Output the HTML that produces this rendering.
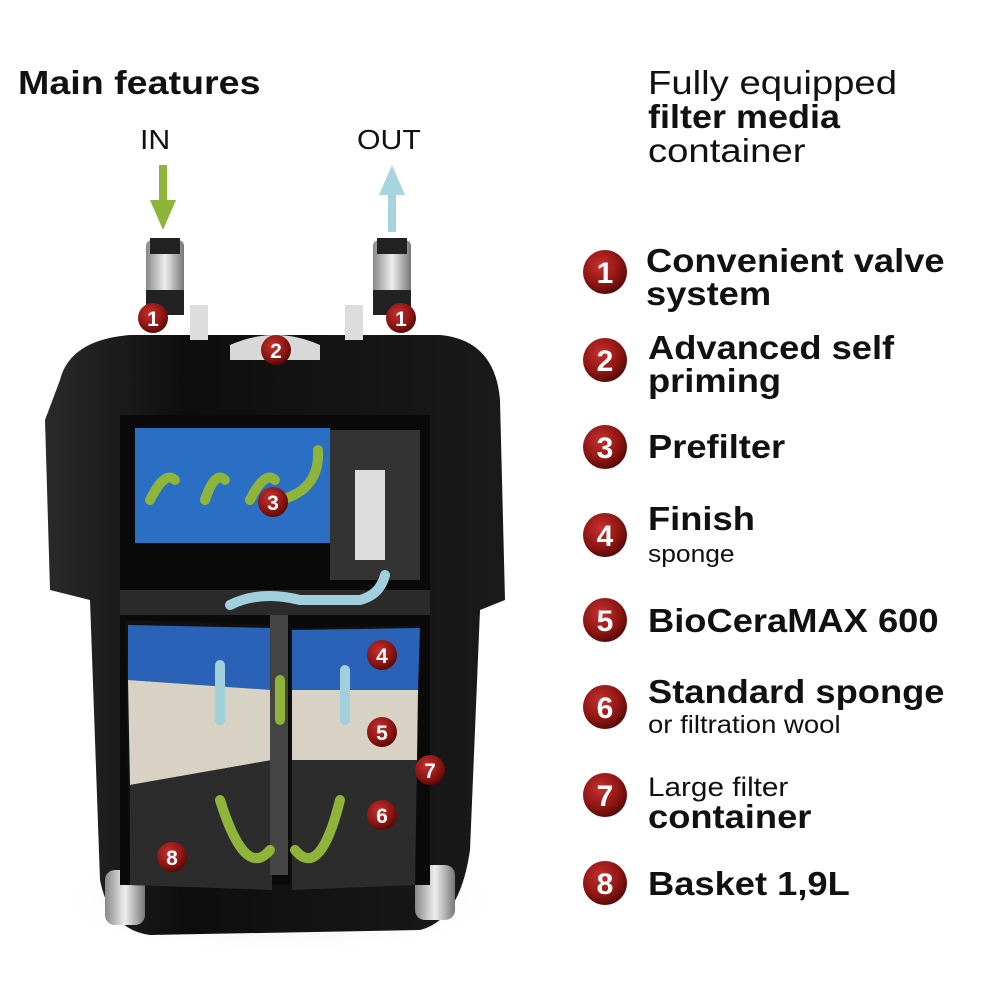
<!DOCTYPE html>
<html><head><style>
body{margin:0;background:#fff;}
.wrap{position:relative;width:1000px;height:1000px;overflow:hidden;font-family:"Liberation Sans","DejaVu Sans",sans-serif;color:#111;}
.t{position:absolute;white-space:nowrap;transform-origin:0 0;}
.b{font-weight:bold;}
</style></head><body><div class="wrap">
<svg width="1000" height="1000" style="position:absolute;left:0;top:0">
<defs>
<radialGradient id="rb" cx="40%" cy="35%" r="65%"><stop offset="0" stop-color="#c8302e"/><stop offset="0.7" stop-color="#8a1512"/><stop offset="1" stop-color="#5a0a08"/></radialGradient>
<linearGradient id="bd" x1="0" x2="1"><stop offset="0" stop-color="#2a2a2a"/><stop offset="0.3" stop-color="#0e0e0e"/><stop offset="1" stop-color="#1a1a1a"/></linearGradient>
<linearGradient id="sil" x1="0" x2="1"><stop offset="0" stop-color="#888"/><stop offset="0.5" stop-color="#eee"/><stop offset="1" stop-color="#777"/></linearGradient>
<radialGradient id="sh" cx="50%" cy="50%" r="50%"><stop offset="0" stop-color="#ccc"/><stop offset="1" stop-color="#fff" stop-opacity="0"/></radialGradient>
</defs>
<ellipse cx="280" cy="900" rx="230" ry="55" fill="url(#sh)"/>
<rect x="159" y="165" width="8" height="40" fill="#8fb43a"/><polygon points="150,200 176,200 163,230" fill="#8fb43a"/>
<rect x="388" y="190" width="8" height="42" fill="#a8d4e0"/><polygon points="379,195 405,195 392,165" fill="#a8d4e0"/>
<path d="M60,380 Q70,340 130,335 L440,335 Q495,340 500,400 L505,600 L480,610 L470,850 Q460,920 420,930 L150,935 Q110,930 100,880 L90,600 L50,590 L45,420 Z" fill="url(#bd)"/>
<rect x="105" y="870" width="40" height="55" rx="10" fill="url(#sil)"/>
<rect x="415" y="865" width="40" height="55" rx="10" fill="url(#sil)"/>
<path d="M230,345 Q275,325 320,345 L320,360 L230,360Z" fill="#d8d8d8"/>
<rect x="190" y="305" width="18" height="35" fill="#ddd"/><rect x="345" y="305" width="18" height="35" fill="#ddd"/>
<rect x="146" y="240" width="38" height="60" rx="6" fill="url(#sil)"/><rect x="150" y="238" width="30" height="16" fill="#222"/><rect x="146" y="290" width="38" height="25" fill="#222"/>
<rect x="373" y="240" width="38" height="60" rx="6" fill="url(#sil)"/><rect x="377" y="238" width="30" height="16" fill="#222"/><rect x="373" y="290" width="38" height="25" fill="#222"/>
<rect x="120" y="415" width="310" height="470" fill="#0a0a0a"/>
<rect x="135" y="428" width="195" height="115" fill="#2a6fc4"/>
<rect x="330" y="430" width="90" height="150" fill="#333"/>
<rect x="355" y="470" width="30" height="90" fill="#ddd"/>
<rect x="120" y="590" width="310" height="25" fill="#2b2b2b"/>
<polygon points="125,620 272,625 272,890 130,885" fill="#111"/>
<polygon points="128,625 272,628 272,690 128,680" fill="#2a62b8"/>
<polygon points="128,680 272,690 272,760 130,785" fill="#d8d2c4"/>
<polygon points="130,785 272,760 272,890 130,885" fill="#2c2c2c"/>
<polygon points="290,628 420,625 415,885 290,890" fill="#111"/>
<polygon points="292,630 420,628 418,690 292,690" fill="#2a62b8"/>
<polygon points="292,690 418,690 417,760 292,760" fill="#d8d2c4"/>
<polygon points="292,760 417,760 415,885 292,890" fill="#2c2c2c"/>
<rect x="270" y="615" width="18" height="260" fill="#444"/>
<g stroke-width="10" fill="none" stroke-linecap="round">
<path d="M150,500 Q165,470 175,480" stroke="#8fb43a"/><path d="M205,500 Q215,470 225,480" stroke="#8fb43a"/><path d="M250,500 Q265,470 275,480" stroke="#8fb43a"/>
<path d="M280,500 Q320,490 318,450" stroke="#8fb43a"/>
<path d="M230,605 Q260,590 300,600 L360,600 Q380,595 385,575" stroke="#9fd0dc"/>
<path d="M220,720 L220,665" stroke="#9fd0dc"/><path d="M345,720 L345,670" stroke="#9fd0dc"/>
<path d="M280,680 L280,720" stroke="#8fb43a"/>
<path d="M270,850 Q245,880 220,800" stroke="#8fb43a"/><path d="M295,850 Q320,880 340,800" stroke="#8fb43a"/>
</g>
<g font-family="Liberation Sans,sans-serif" font-weight="bold" fill="#fff" text-anchor="middle">
<circle cx="153" cy="318" r="15" fill="url(#rb)"/><text x="153" y="326" font-size="21">1</text>
<circle cx="401" cy="318" r="15" fill="url(#rb)"/><text x="401" y="326" font-size="21">1</text>
<circle cx="276" cy="350" r="15" fill="url(#rb)"/><text x="276" y="358" font-size="21">2</text>
<circle cx="273" cy="502" r="15" fill="url(#rb)"/><text x="273" y="510" font-size="21">3</text>
<circle cx="382" cy="655" r="15" fill="url(#rb)"/><text x="382" y="663" font-size="21">4</text>
<circle cx="382" cy="732" r="15" fill="url(#rb)"/><text x="382" y="740" font-size="21">5</text>
<circle cx="382" cy="815" r="15" fill="url(#rb)"/><text x="382" y="823" font-size="21">6</text>
<circle cx="430" cy="770" r="15" fill="url(#rb)"/><text x="430" y="778" font-size="21">7</text>
<circle cx="172" cy="857" r="15" fill="url(#rb)"/><text x="172" y="865" font-size="21">8</text>
</g>
<g font-family="Liberation Sans,sans-serif" font-weight="bold" fill="#fff" text-anchor="middle">
<circle cx="605" cy="272" r="22" fill="url(#rb)"/><text x="605" y="283" font-size="30">1</text>
<circle cx="605" cy="360" r="22" fill="url(#rb)"/><text x="605" y="371" font-size="30">2</text>
<circle cx="605" cy="447" r="22" fill="url(#rb)"/><text x="605" y="458" font-size="30">3</text>
<circle cx="605" cy="535" r="22" fill="url(#rb)"/><text x="605" y="546" font-size="30">4</text>
<circle cx="605" cy="620" r="22" fill="url(#rb)"/><text x="605" y="631" font-size="30">5</text>
<circle cx="605" cy="707" r="22" fill="url(#rb)"/><text x="605" y="718" font-size="30">6</text>
<circle cx="605" cy="795" r="22" fill="url(#rb)"/><text x="605" y="806" font-size="30">7</text>
<circle cx="605" cy="883" r="22" fill="url(#rb)"/><text x="605" y="894" font-size="30">8</text>
</g>
</svg>
<div class="t b" style="left:18px;top:64px;font-size:33px;transform:scaleX(1.14)">Main features</div>
<div class="t" style="left:140px;top:124px;font-size:28px;transform:scaleX(1.08)">IN</div>
<div class="t" style="left:357px;top:124px;font-size:28px;transform:scaleX(1.08)">OUT</div>
<div class="t" style="left:648px;top:66px;font-size:33px;line-height:34px;transform:scaleX(1.16)">Fully equipped<br><b style="display:inline-block;transform:scaleX(0.94);transform-origin:0 0">filter media</b><br>container</div>
<div class="t b" style="left:646px;top:244px;font-size:33px;line-height:33px;transform:scaleX(1.1)">Convenient valve<br>system</div>
<div class="t b" style="left:648px;top:331px;font-size:33px;line-height:33px;transform:scaleX(1.1)">Advanced self<br>priming</div>
<div class="t b" style="left:648px;top:428px;font-size:33px;transform:scaleX(1.1)">Prefilter</div>
<div class="t" style="left:648px;top:503px;font-size:33px;line-height:32px;transform:scaleX(1.1)"><b>Finish</b><br><span style="font-size:24px">sponge</span></div>
<div class="t b" style="left:648px;top:602px;font-size:33px;transform:scaleX(1.1)">BioCeraMAX 600</div>
<div class="t" style="left:648px;top:677px;font-size:33px;line-height:30px;transform:scaleX(1.1)"><b>Standard sponge</b><br><span style="font-size:25px">or filtration wool</span></div>
<div class="t" style="left:648px;top:772px;font-size:27px;line-height:30px;transform:scaleX(1.1)">Large filter<br><b style="font-size:33px">container</b></div>
<div class="t b" style="left:648px;top:865px;font-size:33px;transform:scaleX(1.1)">Basket 1,9L</div>
</div></body></html>
